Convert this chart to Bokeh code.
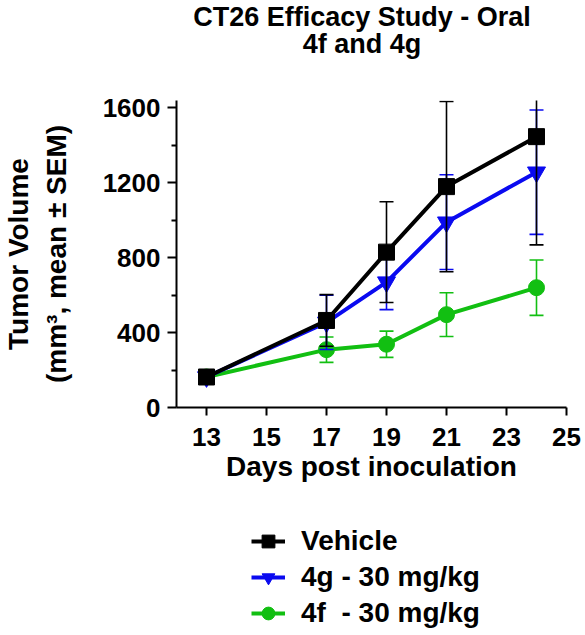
from bokeh.plotting import figure
from bokeh.models import FixedTicker, Legend, LegendItem, ColumnDataSource, Div
from bokeh.layouts import column
from bokeh.embed import file_html
from bokeh.resources import INLINE

# ---- data ----
days = [13, 17, 19, 21, 24]
vehicle = [163, 465, 830, 1180, 1447]
vehicle_sem = [10, 138, 269, 455, 578]
g4 = [163, 455, 670, 990, 1257]
g4_sem = [10, 145, 147, 253, 332]
f4 = [163, 309, 338, 496, 640]
f4_sem = [10, 68, 70, 117, 148]
x_ticks = [13, 15, 17, 19, 21, 23, 25]
y_ticks = [0, 400, 800, 1200, 1600]
y_minor = [200, 600, 1000, 1400]
labels = ["Vehicle", "4g - 30 mg/kg", "4f  - 30 mg/kg"]
title_lines = ["CT26 Efficacy Study - Oral", "4f and 4g"]

FONT = "Liberation Sans"
BLACK = "#000000"
BLUE = "#0a0af0"
GREEN = "#12bf12"

LEFT, FW, RIGHT = 167, 390, 18
W = LEFT + FW + RIGHT

# ---- title (two centred lines over the plot frame) ----
title_html = (
    '<div style="width:%dpx;margin-left:%dpx;padding-top:4px;text-align:center;'
    'font-family:\'Liberation Sans\';font-weight:bold;font-size:27px;'
    'line-height:27px;color:#000;">%s<br>%s</div>'
    % (FW, LEFT, title_lines[0], title_lines[1])
)
title_div = Div(text=title_html, width=W, height=90, margin=(0, 0, 0, 0))

# ---- main chart ----
p = figure(frame_width=FW, frame_height=307, x_range=(12, 25), y_range=(0, 1640),
           output_backend="svg", toolbar_location=None,
           min_border_left=LEFT, min_border_right=RIGHT, min_border_top=10,
           min_border_bottom=85)
p.outline_line_color = None
p.xgrid.visible = False
p.ygrid.visible = False

for ax in (p.xaxis[0], p.yaxis[0]):
    ax.axis_line_width = 2
    ax.major_tick_line_width = 2
    ax.minor_tick_line_width = 2
    ax.major_tick_in = 0
    ax.minor_tick_in = 0
    ax.major_label_text_font = FONT
    ax.major_label_text_font_style = "bold"
    ax.major_label_text_font_size = "26px"
    ax.major_label_text_color = "black"
    ax.axis_label_text_font = FONT
    ax.axis_label_text_font_style = "bold"
    ax.axis_label_text_font_size = "28px"
    ax.axis_label_text_color = "black"

p.xaxis.ticker = FixedTicker(ticks=x_ticks)
p.xaxis.major_tick_out = 8
p.xaxis.minor_tick_out = 0
p.xaxis.major_label_standoff = 12
p.xaxis.axis_label = "Days post inoculation"
p.xaxis.axis_label_standoff = 2

p.yaxis.ticker = FixedTicker(ticks=y_ticks, minor_ticks=y_minor)
p.yaxis.major_tick_out = 9
p.yaxis.minor_tick_out = 5
p.yaxis.major_label_standoff = 7
p.yaxis.axis_label = "Tumor Volume\n(mm\u00b3, mean \u00b1 SEM)"
p.yaxis.axis_label_standoff = 28

series = [(vehicle, vehicle_sem, BLACK, "square", 16),
          (g4, g4_sem, BLUE, "inverted_triangle", 18),
          (f4, f4_sem, GREEN, "circle", 16)]
for idx in (2, 1, 0):
    vals, sem, col, mk, sz = series[idx]
    lo = [v - s for v, s in zip(vals, sem)]
    hi = [v + s for v, s in zip(vals, sem)]
    src = ColumnDataSource(dict(x=days, y=vals, lo=lo, hi=hi))
    p.segment(x0="x", y0="lo", x1="x", y1="hi", source=src, line_color=col, line_width=1.6)
    p.scatter(x="x", y="lo", source=src, marker="dash", size=14, line_color=col, line_width=1.6)
    p.scatter(x="x", y="hi", source=src, marker="dash", size=14, line_color=col, line_width=1.6)
    p.line(x="x", y="y", source=src, line_color=col, line_width=4)
    p.scatter(x="x", y="y", source=src, marker=mk, size=sz, fill_color=col, line_color=col)

# ---- legend panel below the chart: same series drawn outside its empty view,
# only their legend glyphs show ----
lg = figure(width=W, height=137, output_backend="svg", toolbar_location=None,
            min_border=0, x_axis_type=None, y_axis_type=None,
            x_range=(0, 1), y_range=(0, 1))
lg.outline_line_color = None
lg.xgrid.visible = False
lg.ygrid.visible = False
items = []
for idx in (0, 1, 2):
    vals, sem, col, mk, sz = series[idx]
    ln = lg.line(x=days, y=vals, line_color=col, line_width=4)
    sc = lg.scatter(x=days, y=vals, marker=mk, size=sz, fill_color=col, line_color=col)
    items.append(LegendItem(label=labels[idx], renderers=[ln, sc]))

legend = Legend(items=items, location=(75, 0), orientation="vertical",
                label_text_font=FONT, label_text_font_size="28px",
                label_text_font_style="bold", label_text_color="black",
                glyph_width=34, glyph_height=32,
                label_height=32, spacing=4, padding=0, margin=0,
                label_standoff=16, border_line_color=None,
                background_fill_alpha=0)
lg.add_layout(legend, "center")

layout = column(title_div, p, lg, spacing=0)
open("out.html", "w").write(file_html(layout, INLINE))
